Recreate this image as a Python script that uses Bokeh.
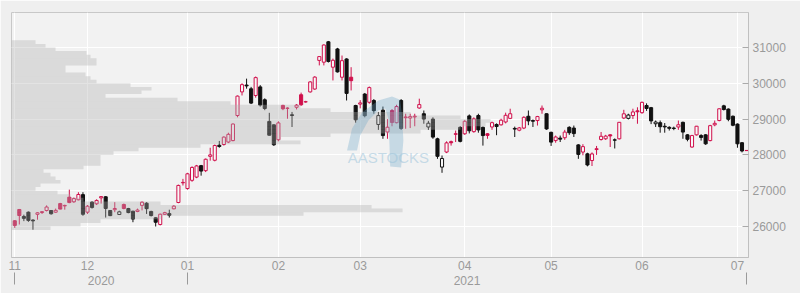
import numpy as np
import pandas as pd
from bokeh.plotting import figure
from bokeh.models import (Range1d, LinearAxis, FixedTicker, Grid, ColumnDataSource,
                          PolyAnnotation, Label)
from bokeh.embed import file_html
from bokeh.resources import INLINE

# ---------------- data ----------------
hk_holidays = ["2020-12-25", "2021-01-01", "2021-02-12", "2021-02-15", "2021-04-02",
               "2021-04-05", "2021-04-06", "2021-05-19", "2021-06-14", "2021-07-01"]
dates = pd.bdate_range("2020-11-09", "2021-07-06")
dates = dates[~dates.isin(pd.to_datetime(hk_holidays))]

open_ = [26160, 26475, 26280, 26400, 26180, 26340, 26390, 26447, 26447, 26400,
         26640, 26575, 26818, 26690, 26746, 26890, 26400, 26680, 26634, 26800,
         26830, 26447, 26470, 26335, 26614, 26500, 26427, 26420, 26590, 26650,
         26420, 26243, 26056, 26340, 26360, 26494, 26670, 27220, 27060, 27290,
         27380, 27700, 27560, 27960, 27850, 28270, 28290, 28360, 28400, 29100,
         29760, 29950, 29846, 29660, 29900, 29540, 28935, 28840, 28424, 29382,
         29300, 29120, 29330, 29680, 29480, 29760, 29840, 30640, 30590, 31160,
         30450, 30960, 30170, 30680, 30170, 29380, 29420, 29700, 29470, 29520,
         28850, 29250, 28640, 29240, 28900, 29520, 29040, 29030, 29060, 29310,
         29150, 28780, 29000, 28450, 27660, 28080, 28370, 28590, 28770, 28590,
         29090, 28650, 29100, 28770, 28590, 28780, 28850, 28840, 28920, 29020,
         28740, 28690, 28750, 29080, 28960, 28960, 29260, 29150, 28630, 28400,
         28470, 28480, 28770, 28750, 28280, 28080, 28030, 27843, 28150, 28430,
         28450, 28560, 28420, 28450, 29030, 29020, 29100, 29230, 29180, 29380,
         29320, 28870, 28900, 28800, 28770, 28750, 28780, 28910, 28560, 28220,
         28560, 28540, 28560, 28400, 28840, 28960, 29370, 29280, 29080, 28860,
         28340, 28125]
high = [26180, 26490, 26330, 26420, 26200, 26400, 26430, 26590, 26460, 26500,
        26660, 26610, 27030, 26810, 26958, 26958, 26600, 26700, 26760, 26850,
        26850, 26460, 26680, 26440, 26640, 26520, 26440, 26500, 26700, 26680,
        26440, 26260, 26360, 26410, 26470, 26600, 27170, 27330, 27500, 27680,
        27720, 27720, 27900, 28200, 28290, 28390, 28520, 28620, 28880, 29660,
        30000, 30130, 29900, 30190, 29950, 29580, 29175, 28850, 28940, 29400,
        29330, 29200, 29420, 29740, 29510, 30060, 30200, 30760, 31090, 31183,
        30690, 30990, 30776, 30700, 30450, 29400, 29530, 29730, 29910, 29560,
        29200, 29350, 29000, 29280, 29400, 29560, 29150, 29150, 29150, 29570,
        29240, 28950, 29050, 28480, 27983, 28380, 28400, 28680, 28800, 28970,
        29130, 29050, 29150, 28790, 28610, 28930, 28880, 29010, 29180, 29290,
        28790, 28780, 29080, 29240, 28990, 29090, 29380, 29160, 28650, 28540,
        28540, 28700, 28800, 28820, 28300, 28300, 28060, 28070, 28250, 28640,
        28560, 28580, 28460, 28920, 29260, 29150, 29290, 29330, 29490, 29440,
        29340, 28960, 28960, 28890, 28800, 28790, 28960, 28930, 28580, 28560,
        28810, 28580, 28580, 28840, 28960, 29300, 29400, 29300, 29100, 28880,
        28360, 28128]
low = [25960, 26056, 26150, 26130, 25910, 26190, 26350, 26420, 26330, 26380,
       26480, 26470, 26650, 26660, 26730, 26300, 26350, 26500, 26600, 26640,
       26250, 26290, 26400, 26320, 26480, 26370, 26120, 26400, 26450, 26350,
       26280, 26000, 26030, 26320, 26250, 26480, 26650, 27145, 27030, 27250,
       27350, 27420, 27520, 27840, 27820, 28200, 28260, 28330, 28380, 29050,
       29660, 29850, 29420, 29600, 29350, 29250, 28540, 28250, 28380, 29250,
       29010, 28780, 29270, 29370, 29460, 29740, 29820, 30500, 30500, 30580,
       30080, 30300, 30080, 29520, 29800, 28900, 29300, 29050, 29430, 29150,
       28700, 28450, 28450, 28800, 28880, 28700, 28730, 28750, 28800, 29290,
       28870, 28700, 28450, 27890, 27500, 28050, 28260, 28360, 28350, 28560,
       28600, 28620, 28620, 28260, 28450, 28700, 28550, 28820, 28880, 29000,
       28500, 28660, 28720, 28830, 28780, 28820, 29150, 28700, 28250, 28340,
       28360, 28420, 28560, 28500, 27890, 27990, 27680, 27690, 28000, 28400,
       28420, 28220, 28180, 28430, 29000, 28990, 29000, 28870, 29150, 29230,
       28860, 28780, 28620, 28620, 28680, 28690, 28700, 28450, 28380, 28200,
       28540, 28400, 28280, 28380, 28800, 28940, 29240, 28940, 28800, 28200,
       28070, 28115]
close = [26030, 26307, 26227, 26170, 26157, 26382, 26415, 26544, 26356, 26451,
         26486, 26588, 26669, 26780, 26894, 26341, 26567, 26532, 26728, 26835,
         26506, 26304, 26502, 26410, 26505, 26389, 26207, 26460, 26678, 26498,
         26306, 26119, 26343, 26386, 26315, 26568, 27147, 27231, 27472, 27649,
         27692, 27548, 27878, 28000, 28262, 28235, 28497, 28574, 28862, 29642,
         29962, 29927, 29447, 30159, 29391, 29297, 28550, 28283, 28893, 29290,
         29307, 29103, 29390, 29400, 29486, 30038, 30173, 30746, 31070, 30610,
         30644, 30319, 30632, 29718, 30074, 28980, 29452, 29095, 29880, 29236,
         29098, 28540, 28773, 28907, 29350, 28739, 29060, 29070, 29080, 29405,
         29000, 28885, 28497, 27960, 27899, 28336, 28339, 28577, 28378, 28940,
         28674, 29008, 28698, 28540, 28545, 28900, 28793, 28970, 29106, 29150,
         28721, 28755, 29050, 28950, 28941, 29071, 29303, 28725, 28357, 28500,
         28440, 28637, 28620, 28595, 28014, 28231, 27718, 28027, 28173, 28520,
         28525, 28530, 28412, 28910, 29148, 29113, 29200, 29205, 29468, 29297,
         28950, 28918, 28787, 28781, 28742, 28738, 28842, 28638, 28436, 28540,
         28801, 28489, 28309, 28817, 28882, 29288, 29268, 28994, 28828, 28310,
         28110, 28120]

# volume-at-price profile (bin lower edge, relative volume)
vp_price = list(range(25900, 31200, 100))
vp_volume = [39, 69, 89, 150, 292, 391, 360, 149, 72, 59,
             46, 24, 29, 49, 44, 39, 32, 72, 89, 89,
             89, 102, 127, 189, 289, 269, 319, 409, 449, 474,
             479, 449, 399, 319, 289, 219, 166, 94, 130, 140,
             119, 85, 79, 74, 54, 54, 85, 85, 79, 75,
             44, 34, 24]

y_ticks = [26000, 27000, 28000, 29000, 30000, 31000]

# ---------------- derived ----------------
n = len(close)
idx = np.arange(n)
o = np.array(open_, float); h = np.array(high, float)
l = np.array(low, float); c = np.array(close, float)
prev = np.concatenate([[c[0]], c[:-1]])
RED, BLACK = "#d0104c", "#111111"
col = np.where(c >= prev, RED, BLACK)
fill = np.where(c > o, "#f8f8f8", col)
src = ColumnDataSource(dict(x=idx, o=o, h=h, l=l, c=c,
                            top=np.maximum(o, c), bot=np.minimum(o, c),
                            col=col, fill=fill))

per = dates.to_period("M")
month_ticks = [i for i in range(n) if i == 0 or per[i] != per[i - 1]]
month_labels = {i: dates[i].strftime("%m") for i in month_ticks}
yr = dates.year
year_bounds = [i for i in range(n) if i == 0 or yr[i] != yr[i - 1]] + [n - 1]
year_centers = [(year_bounds[k] + year_bounds[k + 1]) / 2 for k in range(len(year_bounds) - 1)]
year_labels = {year_centers[k]: str(yr[year_bounds[k]]) for k in range(len(year_centers))}

# ---------------- figure ----------------
p = figure(width=800, height=293, output_backend="svg", toolbar_location=None,
           x_range=Range1d(-0.72, 161.43), y_range=Range1d(25134, 31978),
           x_axis_type=None, y_axis_type=None,
           min_border_left=11, min_border_right=52, min_border_top=12, min_border_bottom=36,
           background_fill_color="#f2f2f2", border_fill_color="#efefef",
           outline_line_color="#c8c8c8")

p.add_layout(Grid(dimension=0, ticker=FixedTicker(ticks=month_ticks),
                  grid_line_color="white", grid_line_width=1))
p.add_layout(Grid(dimension=1, ticker=FixedTicker(ticks=y_ticks),
                  grid_line_color="white", grid_line_width=1))

font = "Liberation Sans"
yax = LinearAxis(ticker=FixedTicker(ticks=y_ticks), axis_line_color="#c0c0c0",
                 major_tick_in=6, major_tick_out=0, major_tick_line_color="#aaaaaa",
                 minor_tick_line_color=None, major_label_text_color="#9a9a9a",
                 major_label_text_font=font, major_label_text_font_size="12px",
                 major_label_standoff=4)
p.add_layout(yax, "right")

mx = LinearAxis(ticker=FixedTicker(ticks=month_ticks), major_label_overrides=month_labels,
                axis_line_color="#c0c0c0", major_tick_in=0, major_tick_out=0,
                minor_tick_line_color=None, major_label_text_color="#9a9a9a",
                major_label_text_font=font, major_label_text_font_size="12px",
                major_label_standoff=3)
p.add_layout(mx, "below")

yx = LinearAxis(ticker=FixedTicker(ticks=year_centers, minor_ticks=year_bounds),
                major_label_overrides=year_labels, axis_line_color=None,
                major_tick_line_color=None, minor_tick_in=0, minor_tick_out=12,
                minor_tick_line_color="#9a9a9a", major_label_text_color="#9a9a9a",
                major_label_text_font=font, major_label_text_font_size="12px",
                major_label_standoff=-9)
p.add_layout(yx, "below")

# candles
p.segment(x0="x", y0="h", x1="x", y1="l", color="col", line_width=1, source=src)
p.vbar(x="x", top="top", bottom="bot", width=0.68, fill_color="fill",
       line_color="col", line_width=1, source=src)

# volume profile overlay
p.extra_x_ranges = {"vp": Range1d(0, max(vp_volume) / 0.65)}
p.hbar(y=[v + 50 for v in vp_price], height=100, left=0, right=vp_volume,
       x_range_name="vp", fill_color="#b0b0b0", fill_alpha=0.36, line_color=None)

# watermark (decoration)
logo_x = [73.1, 74.2, 76.4, 80.0, 83.0, 84.8, 85.2, 85.5, 85.0, 82.6, 82.4, 82.2,
          81.5, 80.0, 77.8, 76.0, 75.3]
logo_y = [28123, 28737, 29184, 29519, 29631, 29540, 29100, 28402, 27648, 27676,
          28402, 29016, 29296, 29240, 28960, 28540, 28123]
p.add_layout(PolyAnnotation(xs=logo_x, ys=logo_y, fill_color="#6aa6c6", fill_alpha=0.32,
                            line_color=None, level="overlay"))
p.add_layout(Label(x=82.2, y=27927, text="AASTOCKS", text_align="center",
                   text_baseline="middle", text_font=font, text_font_size="15px",
                   text_color="#9cc4da", text_alpha=0.55, level="overlay"))

open("out.html", "w").write(file_html(p, INLINE))
